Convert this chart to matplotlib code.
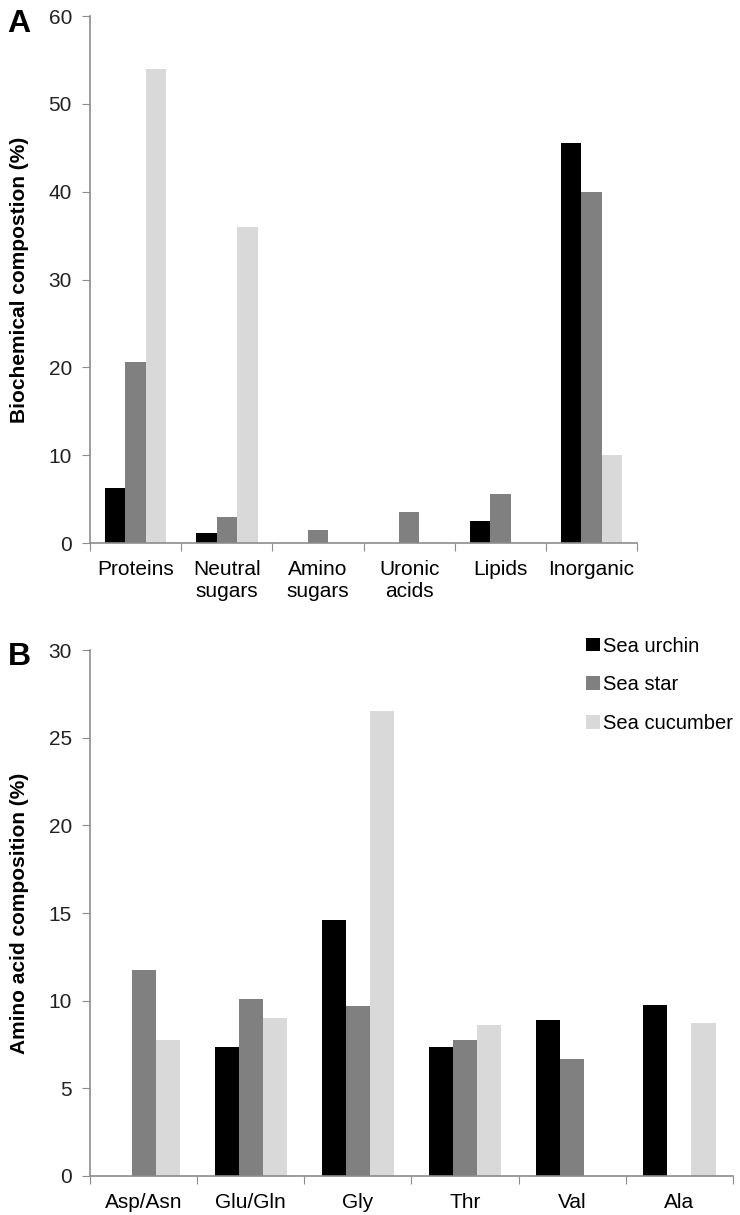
import numpy as np
import matplotlib.pyplot as plt

plt.rcParams['font.family'] = ['Liberation Sans', 'DejaVu Sans']

series = ['Sea urchin', 'Sea star', 'Sea cucumber']
colors = ['#000000', '#808080', '#d9d9d9']

cats_a = ['Proteins', 'Neutral\nsugars', 'Amino\nsugars', 'Uronic\nacids', 'Lipids', 'Inorganic']
urchin_a = [6.3, 1.2, 0, 0, 2.5, 45.6]
star_a = [20.6, 3.0, 1.5, 3.5, 5.6, 40.0]
cucumber_a = [54.0, 36.0, 0, 0, 0, 10.0]

cats_b = ['Asp/Asn', 'Glu/Gln', 'Gly', 'Thr', 'Val', 'Ala']
urchin_b = [0, 7.35, 14.6, 7.35, 8.9, 9.75]
star_b = [11.75, 10.1, 9.7, 7.75, 6.65, 0]
cucumber_b = [7.75, 9.0, 26.5, 8.6, 0, 8.7]

axcol = '#8c8c8c'


def panel(ax, cats, vals, ymax, ystep, ylabel):
  n = len(cats)
  x = np.arange(n) + 0.5
  w = 0.225
  for k, v in enumerate(vals):
    ax.bar(x + (k - 1) * w, v, w, color=colors[k], label=series[k], zorder=2)
  ax.set_xlim(0, n)
  ax.set_ylim(0, ymax)
  ax.set_yticks(np.arange(0, ymax + 0.1, ystep))
  ax.set_xticks(np.arange(0, n + 1))
  ax.set_xticklabels([])
  ax.set_xticks(x, minor=True)
  ax.set_xticklabels(cats, minor=True, fontsize=15)
  ax.tick_params(axis='x', which='major', length=6, color=axcol, direction='out')
  ax.tick_params(axis='x', which='minor', length=0, pad=12)
  ax.tick_params(axis='y', length=6, color=axcol, labelsize=15, labelcolor='#222222', pad=7)
  for s in ['top', 'right']:
    ax.spines[s].set_visible(False)
  for s in ['left', 'bottom']:
    ax.spines[s].set_color(axcol)
    ax.spines[s].set_linewidth(1.2)
  ax.set_ylabel(ylabel, fontsize=15, fontweight='bold', labelpad=14)


fig = plt.figure(figsize=(7.4, 12.15), dpi=100)
ax1 = fig.add_axes([0.1216, 0.553, 0.861 - 0.1216, 0.9868 - 0.553])
ax2 = fig.add_axes([0.1216, 0.0321, 0.9905 - 0.1216, 0.465 - 0.0321])

panel(ax1, cats_a, [urchin_a, star_a, cucumber_a], 60, 10, 'Biochemical compostion (%)')
panel(ax2, cats_b, [urchin_b, star_b, cucumber_b], 30, 5, 'Amino acid composition (%)')

fig.text(0.01, 0.993, 'A', fontsize=23, fontweight='bold', va='top')
fig.text(0.01, 0.4715, 'B', fontsize=23, fontweight='bold', va='top')

ax2.legend(loc='upper left', bbox_to_anchor=(0.792, 0.476), bbox_transform=fig.transFigure,
           frameon=False, fontsize=14.5, handlelength=0.67, handleheight=0.67,
           handletextpad=0.15, labelspacing=0.98, borderpad=0, borderaxespad=0)

fig.savefig('out.png', dpi=100)
